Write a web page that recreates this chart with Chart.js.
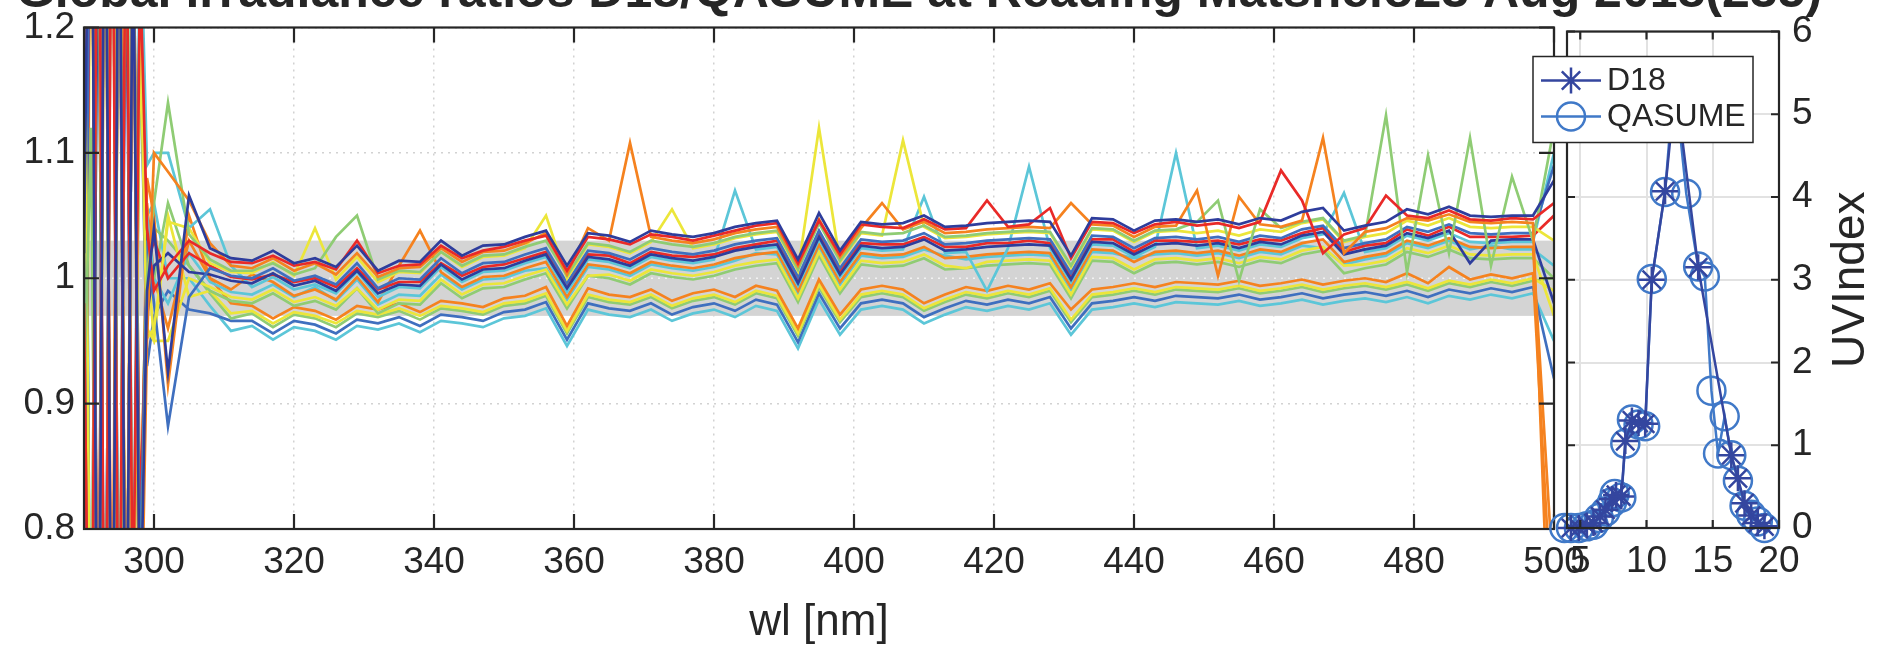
<!DOCTYPE html>
<html>
<head>
<meta charset="utf-8">
<title>D18 / QASUME ratios</title>
<script src="https://cdn.jsdelivr.net/npm/chart.js"></script>
<style>
  body { margin: 0; background: #fff; }
  #wrap { position: relative; width: 1896px; height: 647px; overflow: hidden; }
  #ratioChart, #uviChart { position: absolute; top: 0; }
  #ratioChart { left: 0; }
  #uviChart { left: 1460px; }
</style>
</head>
<body>
<div id="wrap">
  <canvas id="ratioChart" width="1896" height="647"></canvas>
  <canvas id="uviChart" width="436" height="647"></canvas>
</div>
<script>
var FONT = '"Liberation Sans", Arial, Helvetica, sans-serif';
var INK = "#262626";
var TITLE = "Global irradiance ratios D18/QASUME at Reading Matshelo23 Aug 2018(235)";

// ---- ratio spectra (left panel) ----
var wl = [290,291,292,293,294,295,296,297,298,299,300,302,
          305,308,311,314,317,320,323,326,329,332,335,338,341,344,347,
          350,353,356,359,362,365,368,371,374,377,380,383,386,389,392,395,398,401,404,407,
          410,413,416,419,422,425,428,431,434,437,440,443,446,449,452,455,458,461,464,467,
          470,473,476,479,482,485,488,491,494,497,500];
var wlTicks = [300,320,340,360,380,400,420,440,460,480,500];
var ratioTicks = [0.8,0.9,1.0,1.1,1.2];
var band = [0.97, 1.03];

var r01 = [1.02,1.5,0.5,1.45,0.55,1.4,0.6,1.3,0.7,0.99,1.04,0.925,
  1.066,1.024,1.016,1.014,1.022,1.012,1.016,1.009,1.026,1.006,
  1.014,1.013,1.030,1.018,1.026,1.027,1.033,1.038,1.010,1.036,
  1.034,1.029,1.038,1.035,1.033,1.036,1.041,1.044,1.046,1.015,
  1.052,1.022,1.045,1.043,1.044,1.050,1.041,1.042,1.044,1.045,
  1.046,1.045,1.018,1.048,1.047,1.038,1.046,1.047,1.045,1.047,
  1.043,1.048,1.046,1.053,1.056,1.038,1.042,1.045,1.055,1.051,
  1.057,1.050,1.049,1.050,1.050,1.078];
var r02 = [0.98,0.5,1.5,0.55,1.4,0.6,1.35,0.7,1.25,1.04,0.99,1.01,
  1.030,1.020,1.013,1.012,1.018,1.010,1.013,1.007,1.030,1.004,
  1.010,1.011,1.026,1.016,1.022,1.025,1.030,1.034,1.006,1.033,
  1.031,1.027,1.035,1.033,1.030,1.034,1.038,1.042,1.044,1.012,
  1.046,1.019,1.043,1.041,1.040,1.047,1.039,1.040,1.062,1.041,
  1.043,1.056,1.016,1.045,1.044,1.036,1.043,1.045,1.042,1.044,
  1.040,1.045,1.086,1.062,1.020,1.035,1.040,1.066,1.050,1.048,
  1.054,1.047,1.046,1.048,1.047,1.060];
var r03 = [1.04,1.6,0.45,1.5,0.5,1.45,0.6,1.3,0.65,0.95,1.1,1.085,
  1.062,1.028,1.010,1.008,1.016,1.006,1.012,1.003,1.020,1.001,
  1.008,1.009,1.024,1.013,1.021,1.022,1.028,1.036,1.003,1.040,
  1.030,1.108,1.033,1.030,1.028,1.031,1.036,1.039,1.041,1.010,
  1.047,1.017,1.040,1.060,1.039,1.045,1.036,1.037,1.039,1.040,
  1.041,1.040,1.060,1.043,1.042,1.033,1.041,1.042,1.070,1.002,
  1.065,1.043,1.041,1.046,1.112,1.020,1.037,1.040,1.048,1.046,
  1.051,1.045,1.044,1.045,1.044,0.600];
var r04 = [0.9,1.12,0.5,1.5,0.45,1.4,0.55,1.35,0.7,1.0,1.06,1.14,
  1.035,1.015,1.006,1.006,1.012,1.003,1.008,1.033,1.050,0.999,
  1.006,1.005,1.021,1.010,1.018,1.019,1.025,1.030,1.002,1.028,
  1.026,1.021,1.030,1.027,1.025,1.028,1.033,1.036,1.038,1.007,
  1.044,1.014,1.037,1.035,1.036,1.042,1.033,1.034,1.036,1.037,
  1.038,1.037,1.010,1.040,1.039,1.030,1.038,1.039,1.045,1.062,
  0.998,1.055,1.040,1.045,1.048,1.030,1.034,1.130,1.005,1.098,
  1.020,1.112,1.010,1.081,1.030,1.120];
var r05 = [1.3,0.6,1.45,0.5,1.5,0.55,1.4,0.65,1.2,0.952,0.96,1.045,
  1.040,1.012,1.005,1.004,1.013,1.002,1.040,0.999,1.017,0.997,
  1.005,1.004,1.021,1.009,1.017,1.018,1.024,1.050,1.000,1.027,
  1.025,1.020,1.029,1.055,1.024,1.027,1.032,1.035,1.037,1.006,
  1.120,1.013,1.036,1.034,1.110,1.041,1.032,1.033,1.035,1.036,
  1.037,1.036,1.009,1.039,1.038,1.029,1.037,1.038,1.036,1.038,
  1.034,1.039,1.037,1.044,1.047,1.029,1.033,1.036,1.046,1.042,
  1.048,1.041,1.040,1.041,1.041,1.030];
var r06 = [0.7,1.5,0.55,1.45,0.5,1.4,0.6,1.3,0.75,1.03,0.98,0.882,
  0.985,1.008,1.002,1.000,1.008,0.998,1.002,0.995,1.012,0.992,
  1.000,0.999,1.016,1.004,1.012,1.013,1.019,1.024,0.996,1.022,
  1.020,1.015,1.024,1.021,1.019,1.022,1.027,1.030,1.032,1.001,
  1.038,1.008,1.031,1.029,1.030,1.036,1.027,1.028,1.030,1.031,
  1.032,1.031,1.004,1.034,1.033,1.024,1.032,1.033,1.031,1.033,
  1.029,1.034,1.032,1.039,1.042,1.024,1.028,1.031,1.041,1.037,
  1.043,1.036,1.035,1.036,1.036,1.090];
var r07 = [1.4,0.5,1.35,0.55,1.5,0.6,1.3,0.65,1.25,0.97,1.01,1.02,
  1.005,1.003,0.998,0.996,1.004,0.994,0.998,0.990,1.006,0.988,
  0.995,0.994,1.011,0.999,1.007,1.008,1.014,1.019,0.992,1.017,
  1.015,1.010,1.019,1.016,1.014,1.017,1.022,1.025,1.027,0.996,
  1.033,1.003,1.026,1.024,1.025,1.031,1.022,1.023,1.025,1.026,
  1.027,1.026,0.999,1.029,1.028,1.019,1.027,1.028,1.026,1.028,
  1.024,1.029,1.027,1.034,1.037,1.019,1.023,1.026,1.036,1.032,
  1.038,1.012,1.030,1.031,1.031,0.980];
var r08 = [0.6,1.45,0.6,1.5,0.55,1.35,0.6,1.3,0.8,1.01,1.03,1.0,
  1.020,1.010,1.001,0.999,1.003,0.997,1.000,0.993,1.008,0.991,
  0.997,0.997,1.012,1.002,1.009,1.011,1.016,1.021,0.994,1.019,
  1.018,1.012,1.021,1.018,1.017,1.019,1.024,1.027,1.030,0.999,
  1.035,1.006,1.028,1.027,1.027,1.033,1.025,1.025,1.028,1.028,
  1.030,1.028,1.002,1.031,1.031,1.021,1.030,1.030,1.029,1.030,
  1.027,1.031,1.030,1.036,1.040,1.021,1.026,1.028,1.039,1.034,
  1.041,1.033,1.033,1.033,1.034,1.050];
var r09 = [1.45,0.55,1.5,0.5,1.45,0.6,1.4,0.7,1.3,1.09,1.1,1.10,
  1.040,1.055,1.010,0.993,1.001,0.991,0.995,0.988,1.005,0.985,
  0.993,0.992,1.009,0.997,1.005,1.006,1.012,1.017,0.989,1.015,
  1.013,1.008,1.017,1.014,1.012,1.015,1.070,1.023,1.025,0.994,
  1.031,1.001,1.024,1.022,1.023,1.065,1.020,1.021,0.990,1.024,
  1.089,1.024,0.997,1.027,1.026,1.017,1.025,1.100,1.024,1.026,
  1.022,1.027,1.025,1.032,1.035,1.068,1.021,1.024,1.034,1.030,
  1.036,1.029,1.028,1.029,1.029,1.100];
var r10 = [1.1,1.6,0.5,1.4,0.55,1.5,0.6,1.35,0.7,1.08,1.05,0.915,
  1.050,1.000,0.991,1.003,0.997,0.986,0.991,0.983,1.001,0.981,
  1.010,1.038,1.005,0.993,1.001,1.002,1.008,1.013,0.985,1.011,
  1.009,1.004,1.013,1.010,1.008,1.011,1.016,1.019,1.021,0.990,
  1.027,0.997,1.020,1.018,1.019,1.025,1.016,1.017,1.019,1.020,
  1.021,1.020,0.993,1.023,1.022,1.013,1.021,1.022,1.020,1.022,
  1.018,1.023,1.021,1.028,1.031,1.013,1.017,1.020,1.030,1.026,
  1.032,1.025,1.024,1.025,1.025,0.750];
var r11 = [0.5,1.4,0.6,1.45,0.5,1.35,0.65,1.3,0.8,1.02,0.95,0.95,
  1.000,0.993,0.985,0.983,0.991,0.981,0.985,0.978,0.992,0.975,
  0.983,0.982,0.999,0.987,0.995,0.996,1.002,1.007,0.979,1.002,
  1.003,0.998,1.007,1.004,1.002,1.005,1.010,1.013,1.015,0.984,
  1.021,0.991,1.014,1.012,1.013,1.019,1.010,1.008,1.013,1.014,
  1.015,1.014,0.987,1.017,1.016,1.007,1.015,1.016,1.014,1.016,
  1.012,1.017,1.015,1.022,1.025,1.010,1.011,1.014,1.024,1.020,
  1.026,1.019,1.018,1.019,1.019,0.970];
var r12 = [1.2,0.5,1.35,0.55,1.5,0.6,1.4,0.7,1.2,0.99,1.0,1.06,
  1.010,0.990,0.982,0.980,0.988,0.978,0.982,0.975,0.992,0.972,
  0.980,0.979,0.996,0.984,0.992,0.993,0.999,1.004,0.976,1.002,
  1.000,0.995,1.004,1.001,0.999,1.002,1.007,1.010,1.012,0.981,
  1.018,0.988,1.011,1.009,1.010,1.016,1.007,1.008,1.010,1.011,
  1.012,1.011,0.984,1.014,1.013,1.004,1.012,1.013,1.011,1.013,
  1.009,1.014,1.012,1.019,1.022,1.004,1.008,1.011,1.021,1.017,
  1.023,1.016,1.015,1.016,1.016,1.000];
var r13 = [0.8,1.55,0.45,1.5,0.5,1.4,0.55,1.3,0.75,1.05,1.0,0.98,
  1.020,0.997,0.989,0.987,0.995,0.985,0.993,0.982,0.999,0.979,
  0.987,0.986,1.003,0.991,0.999,1.000,1.006,1.008,0.983,1.009,
  1.007,1.002,1.011,1.008,1.006,1.009,1.014,1.020,1.019,0.988,
  1.025,0.995,1.018,1.016,1.017,1.023,1.018,1.015,1.017,1.018,
  1.019,1.018,0.991,1.021,1.020,1.016,1.019,1.020,1.018,1.020,
  1.016,1.021,1.019,1.026,1.024,1.011,1.015,1.018,1.028,1.024,
  1.030,1.023,1.026,1.023,1.023,1.010];
var r14 = [0.85,1.5,0.55,1.45,0.6,1.5,0.55,1.35,0.7,1.06,1.0,0.96,
  1.030,1.000,0.980,0.978,0.968,0.977,0.974,0.967,0.978,0.975,
  0.980,0.973,0.982,0.980,0.977,0.984,0.986,0.993,0.962,0.992,
  0.987,0.985,0.991,0.982,0.988,0.991,0.985,0.994,0.990,0.960,
  0.999,0.971,0.991,0.994,0.991,0.980,0.987,0.993,0.990,0.994,
  0.991,0.996,0.975,0.991,0.993,0.996,0.993,0.997,0.996,0.995,
  0.998,0.994,0.996,0.999,0.995,0.998,1.000,0.997,1.004,0.996,
  1.009,0.999,1.003,1.000,1.004,0.700];
var r15 = [1.25,0.45,1.5,0.5,1.45,0.55,1.4,0.6,1.25,0.96,0.95,1.05,
  0.985,0.990,0.972,0.974,0.964,0.973,0.970,0.964,0.974,0.971,
  0.976,0.970,0.978,0.976,0.973,0.980,0.982,0.988,0.958,0.987,
  0.983,0.981,0.987,0.978,0.984,0.987,0.981,0.990,0.986,0.956,
  0.995,0.967,0.987,0.990,0.987,0.976,0.983,0.989,0.986,0.990,
  0.987,0.992,0.967,0.987,0.989,0.992,0.989,0.993,0.992,0.991,
  0.994,0.990,0.992,0.995,0.991,0.994,0.996,0.993,0.997,0.992,
  0.998,0.995,0.999,0.996,1.000,0.990];
var r16 = [0.95,1.55,0.5,1.4,0.55,1.45,0.6,1.3,0.72,1.0,1.04,1.03,
  1.010,0.988,0.968,0.972,0.961,0.971,0.968,0.961,0.972,0.969,
  0.974,0.967,0.976,0.974,0.971,0.978,0.980,0.986,0.956,0.985,
  0.981,0.979,0.985,0.976,0.982,0.985,0.979,0.988,0.984,0.954,
  0.993,0.965,0.985,0.988,0.985,0.974,0.981,0.987,0.984,0.988,
  0.985,0.990,0.965,0.985,0.987,0.990,0.987,0.991,0.990,0.989,
  0.992,0.988,0.990,0.993,0.989,0.992,0.994,0.991,0.995,0.990,
  0.996,0.993,0.997,0.994,0.998,1.000];
var r17 = [1.35,0.6,1.45,0.55,1.5,0.5,1.4,0.65,1.2,0.93,0.97,0.99,
  0.975,0.972,0.966,0.966,0.956,0.966,0.963,0.956,0.967,0.964,
  0.969,0.962,0.971,0.969,0.966,0.973,0.975,0.981,0.951,0.980,
  0.976,0.974,0.980,0.971,0.977,0.980,0.974,0.983,0.979,0.949,
  0.988,0.960,0.980,0.983,0.980,0.969,0.976,0.982,0.979,0.983,
  0.980,0.985,0.960,0.980,0.982,0.985,0.982,0.986,0.985,0.984,
  0.987,0.983,0.985,0.988,0.984,0.987,0.989,0.986,0.990,0.985,
  0.991,0.988,0.992,0.989,0.993,0.920];
var r18 = [0.55,1.5,0.6,1.45,0.5,1.4,0.55,1.35,0.75,1.05,1.06,1.0,
  1.000,0.978,0.958,0.962,0.951,0.961,0.958,0.951,0.962,0.959,
  0.964,0.957,0.966,0.964,0.961,0.968,0.970,0.976,0.946,0.975,
  0.971,0.969,0.975,0.966,0.972,0.975,0.969,0.978,0.974,0.944,
  0.983,0.955,0.975,0.978,0.975,0.964,0.971,0.977,0.974,0.978,
  0.975,0.980,0.955,0.975,0.977,0.980,0.977,0.981,0.980,0.979,
  0.982,0.978,0.980,0.983,0.979,0.982,0.984,0.981,0.985,0.980,
  0.986,0.983,0.987,0.984,0.988,0.950];

var ratioSeries = [r01,r02,r03,r04,r05,r06,r07,r08,r09,r10,r11,r12,r13,r14,r15,r16,r17,r18];
var seriesColors = ["#2e3d9c","#e92a28","#f5821f","#8fcc74","#ece63a","#3f6fbf","#2e3d9c","#e92a28","#5cc6d8",
                    "#f5821f","#ece63a","#8fcc74","#5cc6d8","#f5821f","#ece63a","#8fcc74","#3f6fbf","#5cc6d8"];

// ---- UV index (right panel) ----
var hourTicks = [5,10,15,20];
var uviTicks = [0,1,2,3,4,5,6];
var d18Hour = [4.3,4.9,5.5,6.0,6.5,6.9,7.4,7.7,8.1,8.4,8.9,9.4,9.9,10.4,11.4,12.2,13.9,16.4,16.9,17.4,17.9,18.4,18.9];
var d18Uvi  = [0.0,0.0,0.03,0.06,0.14,0.22,0.35,0.40,0.38,1.05,1.30,1.27,1.26,3.0,4.07,5.35,3.15,0.88,0.60,0.30,0.15,0.06,0.02];
var qasumeHour = [3.8,4.3,4.9,5.5,6.0,6.4,6.9,7.4,7.6,8.1,8.4,8.9,9.4,9.9,10.4,11.4,12.1,13.0,13.9,14.4,14.9,15.4,15.9,16.4,16.9,17.4,17.9,18.4,18.9];
var qasumeUvi  = [0.0,0.0,0.0,0.02,0.04,0.12,0.2,0.31,0.41,0.37,1.02,1.31,1.25,1.23,3.01,4.06,5.45,4.04,3.16,3.04,1.66,0.9,1.35,0.88,0.57,0.27,0.16,0.08,0.0];

function pairs(xs, ys) {
  return xs.map(function (x, i) { return { x: x, y: ys[i] }; });
}

// box frame + inward tick marks like the original figure
function framePlugin(tickLen) {
  return {
    id: "frame",
    afterDatasetsDraw: function (chart) {
      var a = chart.chartArea, ctx = chart.ctx;
      var xs = chart.scales.x, ys = chart.scales.y;
      ctx.save();
      ctx.strokeStyle = INK;
      ctx.lineWidth = 2.2;
      ctx.beginPath();
      xs.ticks.forEach(function (t) {
        var p = xs.getPixelForValue(t.value);
        ctx.moveTo(p, a.bottom); ctx.lineTo(p, a.bottom - tickLen);
        ctx.moveTo(p, a.top); ctx.lineTo(p, a.top + tickLen);
      });
      ys.ticks.forEach(function (t) {
        var p = ys.getPixelForValue(t.value);
        ctx.moveTo(a.left, p); ctx.lineTo(a.left + tickLen, p);
        ctx.moveTo(a.right, p); ctx.lineTo(a.right - tickLen, p);
      });
      ctx.stroke();
      ctx.strokeRect(a.left, a.top, a.right - a.left, a.bottom - a.top);
      ctx.restore();
    }
  };
}

var bandPlugin = {
  id: "band",
  beforeDatasetsDraw: function (chart) {
    var a = chart.chartArea, ctx = chart.ctx, ys = chart.scales.y;
    var yTop = ys.getPixelForValue(band[1]), yBot = ys.getPixelForValue(band[0]);
    ctx.save();
    ctx.fillStyle = "#d4d4d4";
    ctx.fillRect(a.left, yTop, a.right - a.left, yBot - yTop);
    ctx.strokeStyle = "#f2f2f2";
    ctx.lineWidth = 1.5;
    ctx.setLineDash([2, 5]);
    ctx.beginPath();
    var y1 = ys.getPixelForValue(1);
    ctx.moveTo(a.left, y1); ctx.lineTo(a.right, y1);
    ctx.stroke();
    ctx.restore();
  }
};

var titlePlugin = {
  id: "topTitle",
  afterDraw: function (chart) {
    var ctx = chart.ctx;
    ctx.save();
    ctx.font = "bold 50px " + FONT;
    ctx.fillStyle = INK;
    ctx.textAlign = "center";
    ctx.textBaseline = "alphabetic";
    ctx.fillText(TITLE, 919, 7);
    ctx.restore();
  }
};

var tickFont = { family: FONT, size: 37, lineHeight: 1 };

new Chart(document.getElementById("ratioChart"), {
  type: "line",
  data: {
    datasets: ratioSeries.map(function (s, i) {
      return {
        data: pairs(wl, s),
        borderColor: seriesColors[i],
        borderWidth: 2.7,
        pointRadius: 0,
        tension: 0
      };
    })
  },
  options: {
    responsive: false,
    animation: false,
    events: [],
    layout: { padding: { top: 20, right: 342, bottom: 0, left: 0 } },
    plugins: { legend: { display: false }, tooltip: { enabled: false } },
    scales: {
      x: {
        type: "linear", min: 290, max: 500,
        afterBuildTicks: function (s) { s.ticks = wlTicks.map(function (v) { return { value: v }; }); },
        afterFit: function (s) { s.height = 118; },
        grid: { color: "#d2d2d2", lineWidth: 1.5, drawTicks: false },
        border: { display: false, dash: [2, 5] },
        ticks: { font: tickFont, color: INK, padding: 15, maxRotation: 0, autoSkip: false,
                 callback: function (v) { return String(v); } },
        title: { display: true, text: "wl [nm]", color: INK, padding: 0,
                 font: { family: FONT, size: 44, lineHeight: 1.1 } }
      },
      y: {
        min: 0.8, max: 1.2,
        afterBuildTicks: function (s) { s.ticks = ratioTicks.map(function (v) { return { value: v }; }); },
        afterFit: function (s) { s.width = 84; },
        grid: { color: "#d2d2d2", lineWidth: 1.5, drawTicks: false },
        border: { display: false, dash: [2, 5] },
        ticks: { font: tickFont, color: INK, padding: 9,
                 callback: function (v) { return String(Math.round(v * 10) / 10); } }
      }
    }
  },
  plugins: [bandPlugin, framePlugin(15), titlePlugin]
});

// legend box drawn by hand (it hangs over both panels)
var legendPlugin = {
  id: "uviLegend",
  afterDraw: function (chart) {
    var ctx = chart.ctx, a = chart.chartArea;
    var left = a.left - 34, top = a.top + 25, w = 220, h = 86;
    ctx.save();
    ctx.fillStyle = "#fff";
    ctx.fillRect(left, top, w, h);
    ctx.strokeStyle = INK;
    ctx.lineWidth = 1.5;
    ctx.strokeRect(left, top, w, h);
    chart.data.datasets.forEach(function (ds, i) {
      var y = top + 24 + i * 36, cx = left + 38, r = ds.pointRadius;
      ctx.strokeStyle = ds.borderColor;
      ctx.lineWidth = ds.borderWidth;
      ctx.beginPath();
      ctx.moveTo(left + 8, y); ctx.lineTo(left + 68, y);
      if (ds.pointStyle === "circle") {
        ctx.moveTo(cx + r, y); ctx.arc(cx, y, r, 0, Math.PI * 2);
      } else {
        for (var k = 0; k < 4; k++) {
          var ang = k * Math.PI / 4;
          ctx.moveTo(cx - r * Math.cos(ang), y - r * Math.sin(ang));
          ctx.lineTo(cx + r * Math.cos(ang), y + r * Math.sin(ang));
        }
      }
      ctx.stroke();
      ctx.fillStyle = INK;
      ctx.font = "32px " + FONT;
      ctx.textBaseline = "middle";
      ctx.textAlign = "left";
      ctx.fillText(ds.label, left + 74, y + 1);
    });
    ctx.restore();
  }
};

var uviTitlePlugin = {
  id: "uviTitle",
  afterDraw: function (chart) {
    var ctx = chart.ctx, a = chart.chartArea;
    ctx.save();
    ctx.translate(a.right + 72, (a.top + a.bottom) / 2);
    ctx.rotate(-Math.PI / 2);
    ctx.font = "46px " + FONT;
    ctx.fillStyle = INK;
    ctx.textAlign = "center";
    ctx.textBaseline = "middle";
    ctx.fillText("UVIndex", 0, 0);
    ctx.restore();
  }
};

new Chart(document.getElementById("uviChart"), {
  type: "line",
  data: {
    datasets: [
      { label: "D18", data: pairs(d18Hour, d18Uvi), borderColor: "#34469f", borderWidth: 2.5,
        pointStyle: "star", pointRadius: 13, pointBorderWidth: 2.5, pointBorderColor: "#34469f",
        pointBackgroundColor: "rgba(0,0,0,0)", tension: 0, clip: false },
      { label: "QASUME", data: pairs(qasumeHour, qasumeUvi), borderColor: "#4079c8", borderWidth: 2.5,
        pointStyle: "circle", pointRadius: 14, pointBorderWidth: 2.5, pointBorderColor: "#4079c8",
        pointBackgroundColor: "rgba(0,0,0,0)", tension: 0, clip: false }
    ]
  },
  options: {
    responsive: false,
    animation: false,
    events: [],
    layout: { padding: { top: 20, right: 0, bottom: 0, left: 107 } },
    plugins: { legend: { display: false }, tooltip: { enabled: false } },
    scales: {
      x: {
        type: "linear", min: 4, max: 20,
        afterBuildTicks: function (s) { s.ticks = hourTicks.map(function (v) { return { value: v }; }); },
        afterFit: function (s) { s.height = 119; },
        grid: { color: "#e2e2e2", lineWidth: 2, drawTicks: false },
        border: { display: false },
        ticks: { font: tickFont, color: INK, padding: 15, maxRotation: 0, autoSkip: false }
      },
      y: {
        position: "right", min: 0, max: 6,
        afterBuildTicks: function (s) { s.ticks = uviTicks.map(function (v) { return { value: v }; }); },
        afterFit: function (s) { s.width = 117; },
        grid: { color: "#e2e2e2", lineWidth: 2, drawTicks: false },
        border: { display: false },
        ticks: { font: tickFont, color: INK, padding: 13 }
      }
    }
  },
  plugins: [framePlugin(8), legendPlugin, uviTitlePlugin]
});
</script>
</body>
</html>
